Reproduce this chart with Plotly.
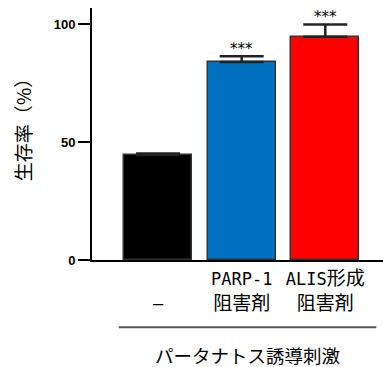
import plotly.graph_objects as go

categories = [" <br><span style='font-size:17px'>–</span>",
              "<span style='font-size:17px'>PARP-1</span><br>阻害剤",
              "<span style='font-size:17px'>ALIS</span>形成<br>阻害剤"]
survival = [44.5, 84.0, 94.7]
sem = [0.7, 2.4, 5.2]
signif = ["", "***", "***"]
bar_colors = ["#000000", "#0070C0", "#FF0000"]
y_ticks = [0, 50, 100]
y_title = "生存率（%）"
group_label = "パータナトス誘導刺激"

xpos = list(range(len(categories)))
jp_font = "DejaVu Sans Mono, Noto Sans CJK JP, sans-serif"

fig = go.Figure()
fig.add_trace(go.Bar(
    x=xpos, y=survival, width=0.81,
    marker=dict(color=bar_colors, line=dict(color="#333333", width=1.5)),
    error_y=dict(type="data", array=sem, arrayminus=[0]*len(sem), symmetric=False,
                 color="#222222", thickness=2.5, width=22),
    showlegend=False,
))

for xi, v, e, s in zip(xpos, survival, sem, signif):
    if s:
        fig.add_annotation(x=xi, y=v + e + 3.0, text=s, showarrow=False,
                           xref="x", yref="y", yanchor="middle",
                           font=dict(family="DejaVu Sans, sans-serif", size=15, color="#000"))

fig.add_annotation(x=-0.2405, y=0.535, xref="paper", yref="paper", text=y_title,
                   textangle=-90, showarrow=False, xanchor="center", yanchor="middle",
                   font=dict(family="Noto Sans CJK JP", size=19, color="#000"))

fig.add_shape(type="line", xref="x", yref="paper", x0=-0.47, x1=2.61, y0=-0.267, y1=-0.267,
              line=dict(color="#555555", width=2))
fig.add_annotation(x=1.07, y=-0.375, xref="x", yref="paper", text=group_label,
                   showarrow=False, xanchor="center", yanchor="middle",
                   font=dict(family="Noto Sans CJK JP", size=18.5, color="#000"))

fig.update_layout(
    width=383, height=367,
    margin=dict(l=92, r=0, t=8, b=107),
    plot_bgcolor="white", paper_bgcolor="white",
    bargap=0,
)
fig.update_xaxes(
    range=[-0.79, 2.69], tickvals=xpos, ticktext=categories,
    showline=True, linecolor="#000", linewidth=2, ticks="", showgrid=False, zeroline=False,
    tickfont=dict(family=jp_font, size=19, color="#000"),
)
fig.update_yaxes(
    range=[0, 106.9], tickvals=y_ticks, ticktext=[str(t) for t in y_ticks],
    showline=True, linecolor="#000", linewidth=2, ticks="outside", ticklen=12,
    tickwidth=2, tickcolor="#000", showgrid=False, zeroline=False,
    tickfont=dict(family="Liberation Sans, Arial", size=13, color="#000", weight="bold"),
)

fig.write_html("out.html", config={"displayModeBar": False},
               post_script="document.body.style.margin='0';")
